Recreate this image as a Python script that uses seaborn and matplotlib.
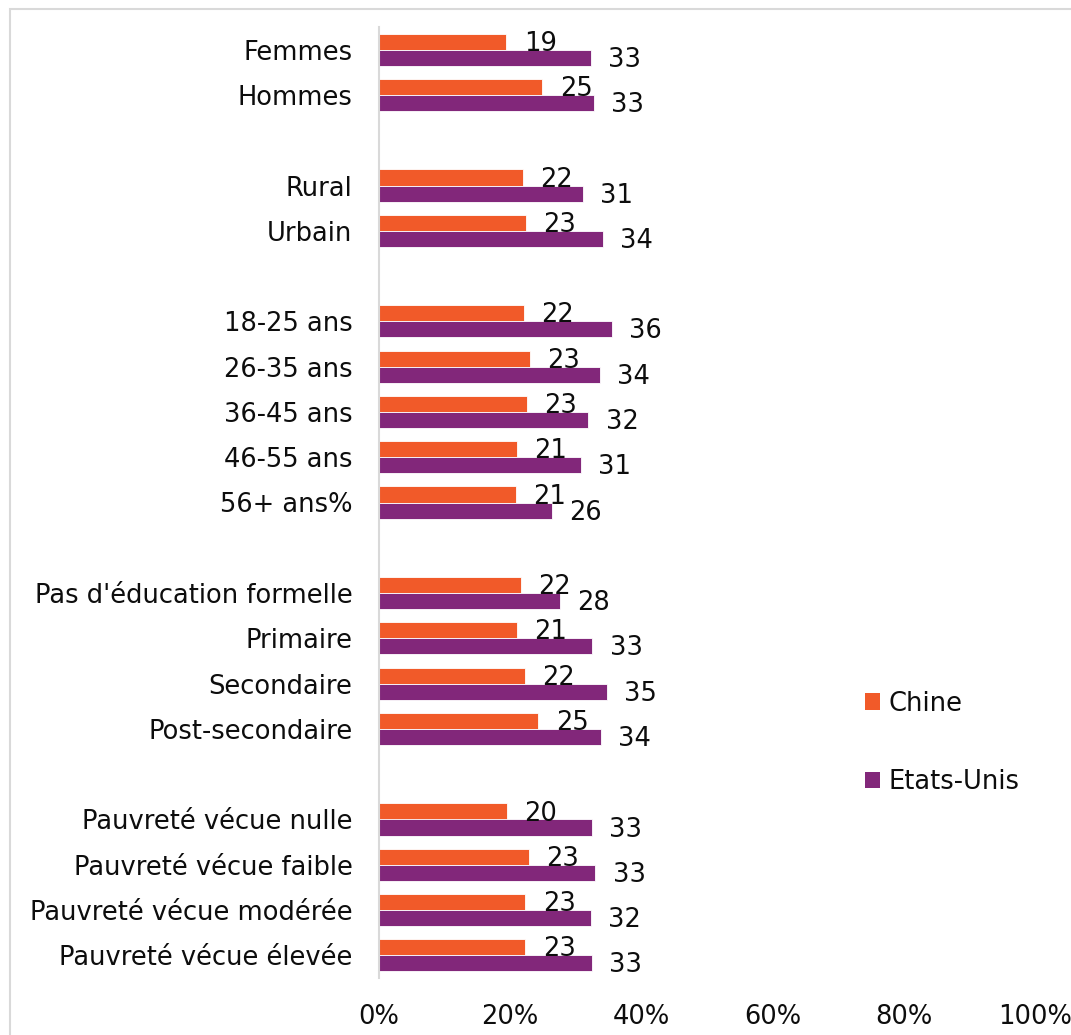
import matplotlib
matplotlib.use("Agg")
import matplotlib.pyplot as plt
import matplotlib.patches as mpatches
import seaborn as sns
import pandas as pd

# ---- data ----
groups = [
    ["Femmes", "Hommes"],
    ["Rural", "Urbain"],
    ["18-25 ans", "26-35 ans", "36-45 ans", "46-55 ans", "56+ ans%"],
    ["Pas d'éducation formelle", "Primaire", "Secondaire", "Post-secondaire"],
    ["Pauvreté vécue nulle", "Pauvreté vécue faible", "Pauvreté vécue modérée", "Pauvreté vécue élevée"],
]
categories = [c for g in groups for c in g]

series = ["Chine", "Etats-Unis"]
chine_values = [19.4, 24.9, 21.9, 22.4, 22.1, 23.0, 22.5, 21.0, 20.9,
                21.6, 21.0, 22.2, 24.3, 19.5, 22.8, 22.3, 22.3]
usa_values = [32.3, 32.7, 31.1, 34.1, 35.5, 33.7, 31.9, 30.8, 26.3,
              27.6, 32.5, 34.7, 33.8, 32.4, 33.0, 32.3, 32.4]
chine_labels = [19, 25, 22, 23, 22, 23, 23, 21, 21, 22, 21, 22, 25, 20, 23, 23, 23]
usa_labels = [33, 33, 31, 34, 36, 34, 32, 31, 26, 28, 33, 35, 34, 33, 33, 32, 33]

x_ticks = [0, 20, 40, 60, 80, 100]
x_ticklabels = ["0%", "20%", "40%", "60%", "80%", "100%"]

colors = {"Chine": "#F15A29", "Etats-Unis": "#82277A"}

# ---- build long table ----
df = pd.DataFrame({
    "cat": categories * 2,
    "series": ["Chine"] * len(categories) + ["Etats-Unis"] * len(categories),
    "value": chine_values + usa_values,
})
label_lookup = {}
for c, v in zip(categories, chine_labels):
    label_lookup[("Chine", c)] = v
for c, v in zip(categories, usa_labels):
    label_lookup[("Etats-Unis", c)] = v

# order with blank spacer slots between groups
order = []
for i, g in enumerate(groups):
    if i > 0:
        order.append(" " * i)
    order.extend(g)

sns.set_style("white")
plt.rcParams["font.family"] = ["DejaVu Sans"]
FS = 18.5
TXT = "#0d0d0d"

fig = plt.figure(figsize=(10.71, 10.35), dpi=100)
ax = fig.add_axes([379 / 1071, 1 - 978 / 1035, 656 / 1071, 951 / 1035])

sns.barplot(data=df, y="cat", x="value", hue="series", order=order,
            hue_order=series, palette=colors, orient="h", width=0.71,
            dodge=True, ax=ax, legend=False, edgecolor="white", linewidth=0.6,
            saturation=1)

ax.set_xlim(0, 100)
ax.set_xticks(x_ticks)
ax.set_xticklabels(x_ticklabels, fontsize=FS, color=TXT)
ax.set_xlabel("")
ax.set_ylabel("")
ax.tick_params(axis="y", length=0, pad=19, labelsize=FS, labelcolor=TXT)
ax.tick_params(axis="x", length=0, pad=18.5)
for s in ["top", "right", "bottom"]:
    ax.spines[s].set_visible(False)
ax.spines["left"].set_color("#d9d9d9")
ax.spines["left"].set_linewidth(1.5)
ax.grid(False)

# value labels
yticks = ax.get_yticks()
for s_name, cont in zip(series, ax.containers):
    for bar in cont:
        w = bar.get_width()
        if w == 0 or pd.isna(w):
            continue
        yc = bar.get_y() + bar.get_height() / 2
        idx = min(range(len(yticks)), key=lambda k: abs(yticks[k] - yc))
        cat = order[idx]
        if (s_name, cat) not in label_lookup:
            continue
        ax.annotate(str(label_lookup[(s_name, cat)]), xy=(w, yc),
                    xytext=(12.5, -1.5), textcoords="offset points",
                    ha="left", va="center", fontsize=FS, color=TXT)

# legend
handles = [mpatches.Patch(facecolor=colors[s], edgecolor="none", label=s) for s in series]
fig.legend(handles=handles, loc="center left",
           bbox_to_anchor=(865 / 1071, 1 - 743 / 1035), frameon=False,
           fontsize=FS, handlelength=0.6, handleheight=0.6,
           handletextpad=0.3, labelspacing=2.05, borderpad=0, borderaxespad=0,
           labelcolor=TXT)

# outer frame (top and left edges visible)
fig.add_artist(mpatches.Rectangle((10 / 1071, -0.2), 2, 1.2 - 9 / 1035,
                                  transform=fig.transFigure, fill=False,
                                  edgecolor="#d9d9d9", linewidth=1.5))

fig.savefig("out.png", dpi=100, facecolor="white")
